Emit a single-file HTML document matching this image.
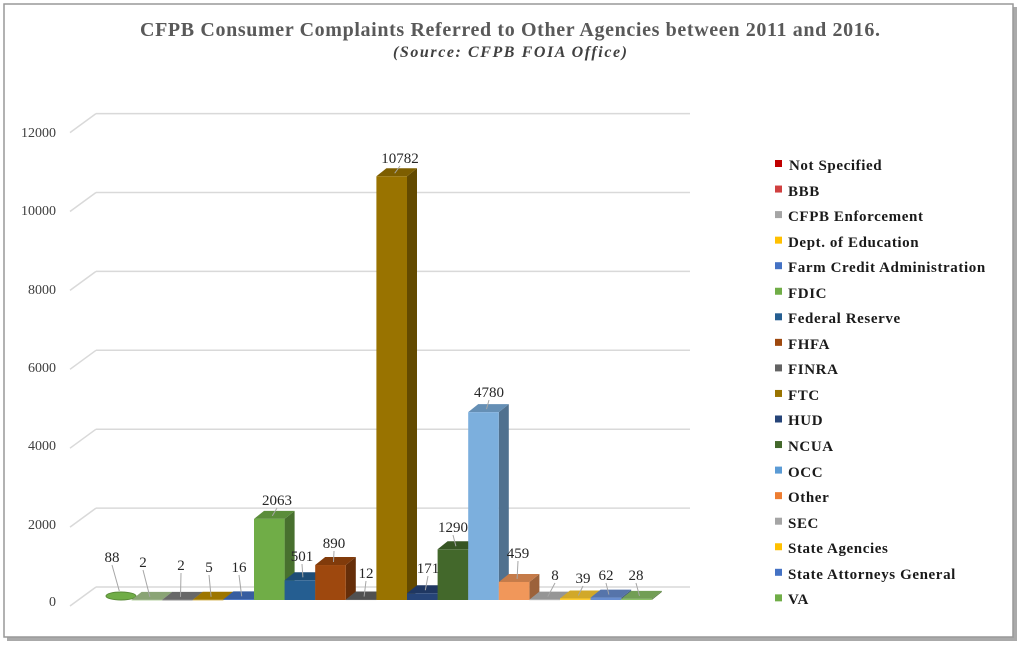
<!DOCTYPE html>
<html><head><meta charset="utf-8"><style>
body{margin:0;background:#fff;}
svg{display:block;font-family:"Liberation Serif",serif;}
</style></head><body>
<svg id="s" width="1026" height="649" viewBox="0 0 1026 649">
<rect x="7" y="7" width="1010" height="634" fill="#aaa"/>
<rect x="4" y="4" width="1009" height="633" fill="#fff" stroke="#999" stroke-width="1.5"/>
<text x="510" y="36" text-anchor="middle" font-size="20" font-weight="bold" fill="#595959" textLength="740" lengthAdjust="spacing">CFPB Consumer  Complaints  Referred to Other Agencies between 2011 and 2016.</text>
<text x="510" y="57" text-anchor="middle" font-size="16" font-weight="bold" font-style="italic" fill="#404040" textLength="234" lengthAdjust="spacing">(Source:  CFPB FOIA Office)</text>
<g id="grid" stroke="#d9d9d9" stroke-width="1.5" fill="none"></g>
<g font-size="14" fill="#404040" text-anchor="end">
<text x="56" y="606">0</text><text x="56" y="529">2000</text><text x="56" y="450">4000</text><text x="56" y="372">6000</text><text x="56" y="294">8000</text><text x="56" y="215">10000</text><text x="56" y="137">12000</text>
</g>
<g id="bars"></g>
<g id="lead" stroke="#a6a6a6" stroke-width="1"></g>
<g font-size="15" fill="#262626" text-anchor="middle">
<text x="112" y="562">88</text><text x="143" y="567">2</text><text x="181" y="570">2</text><text x="209" y="572">5</text><text x="239" y="572">16</text><text x="277" y="505">2063</text><text x="302" y="561">501</text><text x="334" y="548">890</text><text x="366" y="578">12</text><text x="400" y="163">10782</text><text x="428" y="573">171</text><text x="453" y="532">1290</text><text x="489" y="397">4780</text><text x="518" y="558">459</text><text x="555" y="580">8</text><text x="583" y="583">39</text><text x="606" y="580">62</text><text x="636" y="580">28</text>
</g>
<g id="leg" font-size="15" font-weight="bold" fill="#1a1a1a" letter-spacing="0.6">
<text x="789" y="170">Not Specified</text><text x="788" y="196">BBB</text><text x="788" y="221">CFPB Enforcement</text><text x="788" y="247">Dept. of Education</text><text x="788" y="272">Farm Credit Administration</text><text x="788" y="298">FDIC</text><text x="788" y="323">Federal Reserve</text><text x="788" y="349">FHFA</text><text x="788" y="374">FINRA</text><text x="788" y="400">FTC</text><text x="788" y="425">HUD</text><text x="788" y="451">NCUA</text><text x="788" y="477">OCC</text><text x="788" y="502">Other</text><text x="788" y="528">SEC</text><text x="788" y="553">State Agencies</text><text x="788" y="579">State Attorneys General</text><text x="788" y="604">VA</text>
</g>
</svg>
<script>
(function(){
var NS="http://www.w3.org/2000/svg";
function el(p,t,a){var e=document.createElementNS(NS,t);for(var k in a)e.setAttribute(k,a[k]);p.appendChild(e);return e;}
var g=document.getElementById('grid');
for(var k=0;k<=6;k++){var y=587-k*78.9;el(g,'line',{x1:96,y1:y,x2:690,y2:y});el(g,'line',{x1:96,y1:y,x2:70,y2:y+19});}
var vals=[88,2,2,5,16,2063,501,890,12,10782,171,1290,4780,459,8,39,62,28];
var cols=['#70ad47','#a9c98f','#7f7f7f','#c09000','#4472c4','#70ad47','#255e91','#9e480e','#636363','#997300','#264478','#43682b','#7cafdd','#f1975a','#b7b7b7','#ffcd33','#698ed0','#8cc168'];
var legc=['#c00000','#d04040','#a5a5a5','#ffc000','#4472c4','#70ad47','#255e91','#9e480e','#636363','#997300','#264478','#43682b','#5b9bd5','#ed7d31','#a5a5a5','#ffc000','#4472c4','#70ad47'];
function dark(c,f){var n=parseInt(c.slice(1),16);var r=(n>>16)*f|0,gg=((n>>8)&255)*f|0,b=(n&255)*f|0;return 'rgb('+r+','+gg+','+b+')';}
var B=document.getElementById('bars'),L=document.getElementById('lead');
var labs=[[112,557],[143,562],[181,565],[209,567],[239,567],[277,500],[302,556],[334,543],[366,573],[400,158],[428,568],[453,527],[489,392],[518,553],[555,575],[583,578],[606,575],[636,575]];
for(var i=0;i<18;i++){
 var x0=101+i*30.6,w=30.6,h=vals[i]*0.0393,yt=600-h,c=cols[i];
 if(i==0){el(B,'ellipse',{cx:x0+20,cy:596,rx:15,ry:4,fill:c,stroke:dark(c,0.8)});yt=594;}
 else{
 el(B,'polygon',{points:(x0+w)+','+600+' '+(x0+w+10)+','+592+' '+(x0+w+10)+','+(yt-8)+' '+(x0+w)+','+yt,fill:dark(c,0.65)});
 el(B,'polygon',{points:x0+','+yt+' '+(x0+10)+','+(yt-8)+' '+(x0+w+10)+','+(yt-8)+' '+(x0+w)+','+yt,fill:dark(c,0.82)});
 el(B,'rect',{x:x0,y:yt,width:w,height:Math.max(h,0.5),fill:c});}
 var lx=labs[i][0],ly=labs[i][1];
 el(L,'line',{x1:lx,y1:ly+8,x2:x0+w/2+3,y2:yt-3});
}
var Lg=document.getElementById('leg');
for(var i=0;i<18;i++){el(Lg,'rect',{x:775,y:160+i*25.55,width:7,height:7,fill:legc[i]});}
})();
</script>
</body></html>
